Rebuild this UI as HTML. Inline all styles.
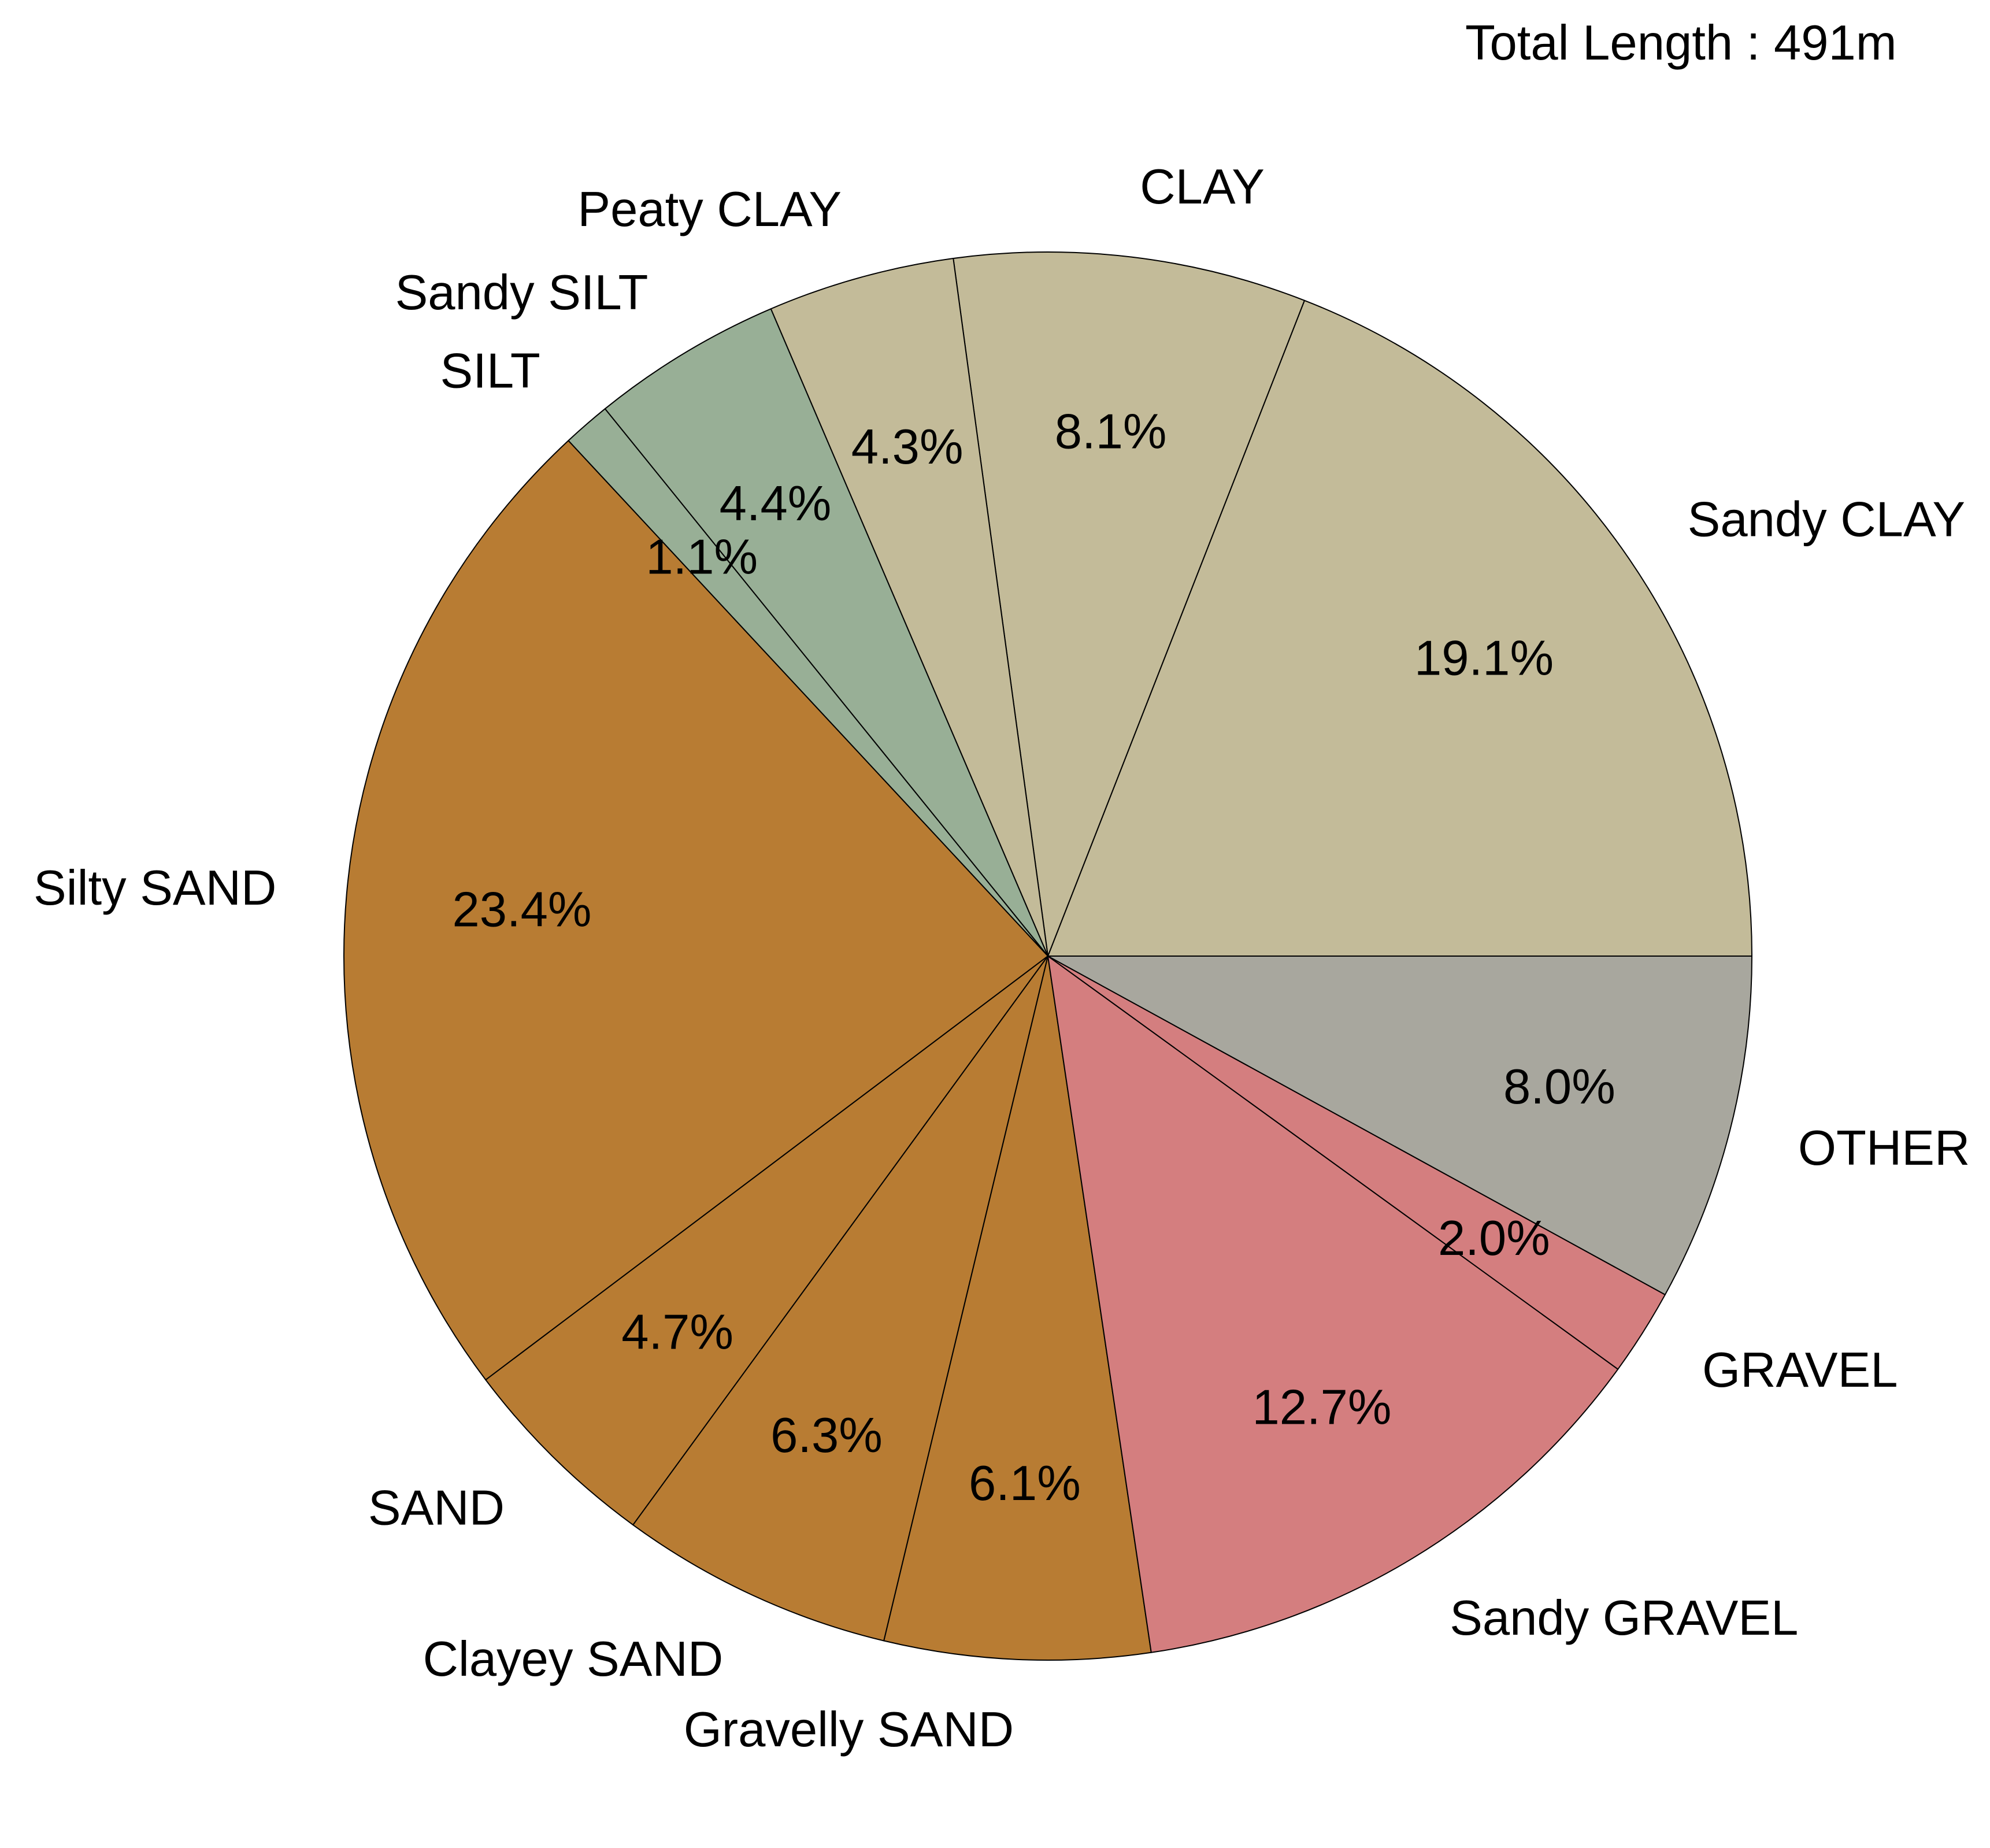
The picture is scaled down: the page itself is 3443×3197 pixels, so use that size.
<!DOCTYPE html>
<html><head><meta charset="utf-8"><style>
html,body{margin:0;padding:0;background:#fff;}
svg{display:block;}
text{font-family:"Liberation Sans",Arial,sans-serif;fill:#000;}
</style></head><body>
<svg id="chart" width="3443" height="3197" viewBox="0 0 3443 3197">
<text x="2535" y="103" font-size="85">Total Length : 491m</text>
<g id="slices"></g>
<g id="labels"></g>
</svg>
<script>
const categories = ["Sandy CLAY","CLAY","Peaty CLAY","Sandy SILT","SILT","Silty SAND","SAND","Clayey SAND","Gravelly SAND","Sandy GRAVEL","GRAVEL","OTHER"];
const values = [19.1,8.1,4.3,4.4,1.1,23.4,4.7,6.3,6.1,12.7,2.0,8.0];
const pctLabels = ["19.1%","8.1%","4.3%","4.4%","1.1%","23.4%","4.7%","6.3%","6.1%","12.7%","2.0%","8.0%"];
const colors = ["#C3BB99","#C3BB99","#C3BB99","#98AF96","#98AF96","#B87C33","#B87C33","#B87C33","#B87C33","#D47E7F","#D47E7F","#A8A79E"];

const NS="http://www.w3.org/2000/svg";
const cx=1813, cy=1654, R=1218, FS=85;
const total=values.reduce((a,b)=>a+b,0);
const gS=document.getElementById('slices'), gL=document.getElementById('labels');
function pt(a,r){return [cx+r*Math.cos(a), cy-r*Math.sin(a)];}
let cum=0;
values.forEach((v,i)=>{
  const a0=cum/total*2*Math.PI; cum+=v;
  const a1=cum/total*2*Math.PI;
  const p0=pt(a0,R), p1=pt(a1,R);
  const large=(a1-a0)>Math.PI?1:0;
  const path=document.createElementNS(NS,'path');
  path.setAttribute('d',`M${cx},${cy} L${p0[0]},${p0[1]} A${R},${R} 0 ${large} 0 ${p1[0]},${p1[1]} Z`);
  path.setAttribute('fill',colors[i]);
  path.setAttribute('stroke','#000');
  path.setAttribute('stroke-width','2');
  path.setAttribute('stroke-linejoin','round');
  
  
  gS.appendChild(path);
  const am=(a0+a1)/2;
  const lp=pt(am,1.1*R);
  const t=document.createElementNS(NS,'text');
  t.setAttribute('x',lp[0]); t.setAttribute('y',lp[1]);
  t.setAttribute('font-size',FS);
  t.setAttribute('dominant-baseline','central');
  t.setAttribute('text-anchor',Math.cos(am)>0?'start':'end');
  t.textContent=categories[i];
  
  
  gL.appendChild(t);
  const pp=pt(am,0.75*R);
  const tp=document.createElementNS(NS,'text');
  tp.setAttribute('x',pp[0]); tp.setAttribute('y',pp[1]);
  tp.setAttribute('font-size',FS);
  tp.setAttribute('dominant-baseline','central');
  tp.setAttribute('text-anchor','middle');
  tp.textContent=pctLabels[i];
  
  
  gL.appendChild(tp);
});
</script>
</body></html>
